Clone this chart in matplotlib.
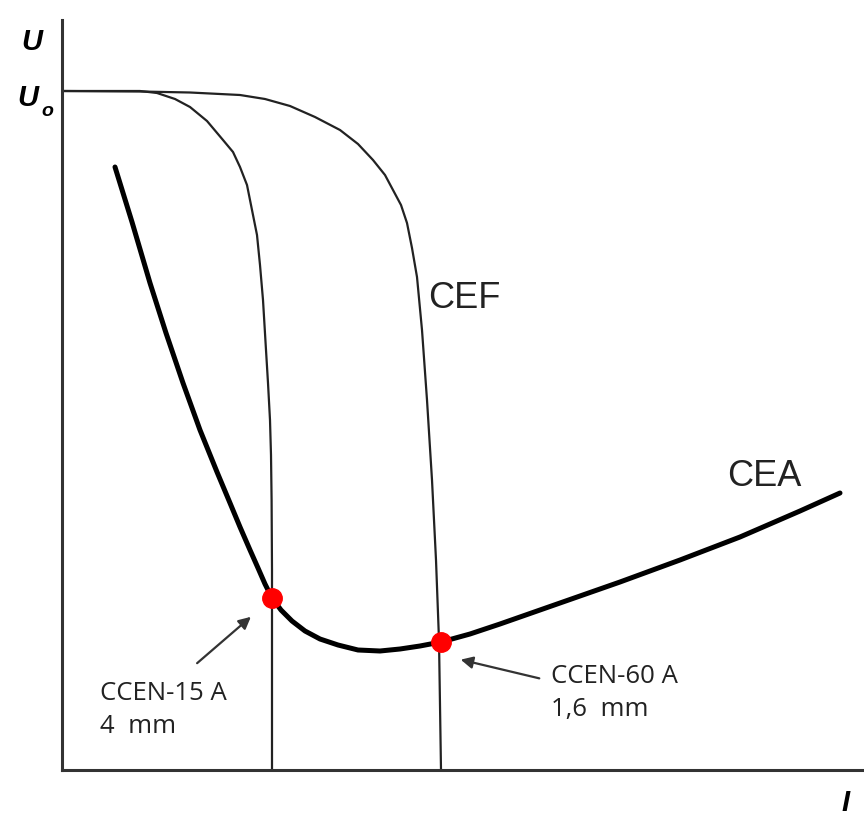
import matplotlib.pyplot as plt

# curves (arbitrary units: I to the right, U upward)
cef1_i = [0, 78, 95, 113, 128, 145, 161, 171, 178, 185, 190, 195, 198, 201, 204, 206, 208, 209, 209.6, 210, 210]
cef1_u = [679, 679, 677, 671, 663, 649, 630, 618, 603, 585, 560, 535, 505, 470, 420, 387, 350, 315, 270, 200, 0]

cef2_i = [0, 78, 128, 178, 203, 228, 253, 278, 296, 311, 323, 331, 339, 345, 350, 355, 360, 365, 370, 374, 377, 379]
cef2_u = [679, 678.5, 677.5, 675, 671, 664, 653, 640, 626, 610, 595, 580, 565, 547, 522, 493, 440, 370, 290, 210, 130, 0]

cea_i = [53, 70, 88, 104, 121, 138, 155, 168, 178, 188, 196, 203, 210, 219, 230, 243, 258, 276, 296,
         318, 338, 358, 379, 408, 438, 498, 558, 618, 678, 738, 778]
cea_u = [603, 548, 487, 437, 387, 340, 298, 267, 243, 220, 202, 186, 172, 160, 149, 139, 131, 125, 120,
         119, 121, 124, 128, 136, 146, 167, 188, 210, 233, 259, 277]

op_i = [210, 379]
op_u = [172, 128]

fig = plt.figure(figsize=(8.64, 8.16), dpi=100)
ax = fig.add_axes([62 / 864, 46 / 816, 802 / 864, 750 / 816])
ax.set_xlim(0, 802)
ax.set_ylim(0, 750)
for s in ['top', 'right']:
    ax.spines[s].set_visible(False)
for s in ['left', 'bottom']:
    ax.spines[s].set_linewidth(2.2)
    ax.spines[s].set_color('#333333')
ax.set_xticks([])
ax.set_yticks([])

ax.plot(cef1_i, cef1_u, color='#222222', lw=1.6, solid_joinstyle='round')
ax.plot(cef2_i, cef2_u, color='#222222', lw=1.6, solid_joinstyle='round')
ax.plot(cea_i, cea_u, color='black', lw=3.6, solid_capstyle='round', solid_joinstyle='round')
ax.plot(op_i, op_u, 'o', color='#ff0000', ms=14, zorder=5)

ax.text(366, 472, 'CEF', fontsize=26, family='Liberation Sans', color='#222222', va='center')
ax.text(665, 293, 'CEA', fontsize=26, family='Liberation Sans', color='#222222', va='center')

ax.annotate('', xy=(191, 155), xytext=(133, 105),
            arrowprops=dict(arrowstyle='-|>', color='#333333', lw=1.6, mutation_scale=18))
ax.annotate('', xy=(396, 111), xytext=(480, 91),
            arrowprops=dict(arrowstyle='-|>', color='#333333', lw=1.6, mutation_scale=18))
ax.text(38, 89, 'CCEN-15 A\n4  mm', fontsize=18.5, family='Open Sans', color='#222222',
        va='top', linespacing=1.4)
ax.text(489, 106, 'CCEN-60 A\n1,6  mm', fontsize=18.5, family='Open Sans', color='#222222',
        va='top', linespacing=1.4)

fig.text(32 / 864, 1 - 42 / 816, 'U', fontsize=21, fontweight='bold', style='italic',
         ha='center', va='center', family='Liberation Sans')
fig.text(28 / 864, 1 - 98 / 816, 'U', fontsize=21, fontweight='bold', style='italic',
         ha='center', va='center', family='Liberation Sans')
fig.text(47 / 864, 1 - 112 / 816, 'o', fontsize=14, fontweight='bold', style='italic',
         ha='center', va='center', family='Liberation Sans')
fig.text(846 / 864, 1 - 803 / 816, 'I', fontsize=21, fontweight='bold', style='italic',
         ha='center', va='center', family='Liberation Sans')

fig.savefig('out.png', dpi=100)
